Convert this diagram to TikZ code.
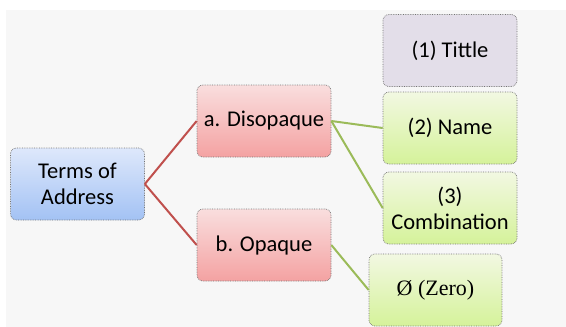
\documentclass[tikz,border=0pt]{standalone}
\usepackage{fontspec}
\setmainfont{Carlito}
\newfontfamily\zerofont{Liberation Serif}
\usetikzlibrary{shadings}
\definecolor{bgc}{HTML}{F7F7F7}
\definecolor{blueT}{HTML}{DEE8FB}
\definecolor{blueB}{HTML}{A3C2F4}
\definecolor{redT}{HTML}{F9DEDE}
\definecolor{redB}{HTML}{F4A2A2}
\definecolor{greenT}{HTML}{F2F8E2}
\definecolor{greenB}{HTML}{D5F29A}
\definecolor{lav}{HTML}{E3DEE9}
\definecolor{redline}{HTML}{C0504D}
\definecolor{greenline}{HTML}{9BBB59}
\tikzset{
  box/.style={draw=gray!90!black, densely dotted, line width=0.7pt, rounded corners=6pt,
    minimum width=134pt, minimum height=72pt, inner sep=0pt, align=center,
    font=\fontsize{22.5}{26}\selectfont, text=black},
  bluebox/.style={box, top color=blueT, bottom color=blueB},
  redbox/.style={box, top color=redT, bottom color=redB},
  greenbox/.style={box, top color=greenT, bottom color=greenB},
  lavbox/.style={box, fill=lav},
  redconn/.style={draw=redline, line width=2pt},
  greenconn/.style={draw=greenline, line width=2pt},
}
\begin{document}
\begin{tikzpicture}[x=1pt,y=-1pt]
\useasboundingbox (0,0) rectangle (566,327);
\fill[bgc] (6,10) rectangle (566,327);
\node[bluebox] (terms) at (77.5,184) {Terms of\\Address};
\node[redbox] (dis) at (264,121) {a. Disopaque};
\node[redbox] (opa) at (264,245) {b. Opaque};
\node[lavbox] (tit) at (450,50.5) {(1) Tittle};
\node[greenbox] (nam) at (450,128) {(2) Name};
\node[greenbox] (com) at (450,208) {(3)\\Combination};
\node[greenbox, minimum width=133pt] (zer) at (435.5,290) {\zerofont\fontsize{22}{25}\selectfont Ø (Zero)};
\draw[redconn] (terms.east) -- (dis.west);
\draw[redconn] (terms.east) -- (opa.west);
\draw[greenconn] (dis.east) -- (nam.west);
\draw[greenconn] (dis.east) -- (com.west);
\draw[greenconn] (opa.east) -- (zer.west);
\end{tikzpicture}
\end{document}
